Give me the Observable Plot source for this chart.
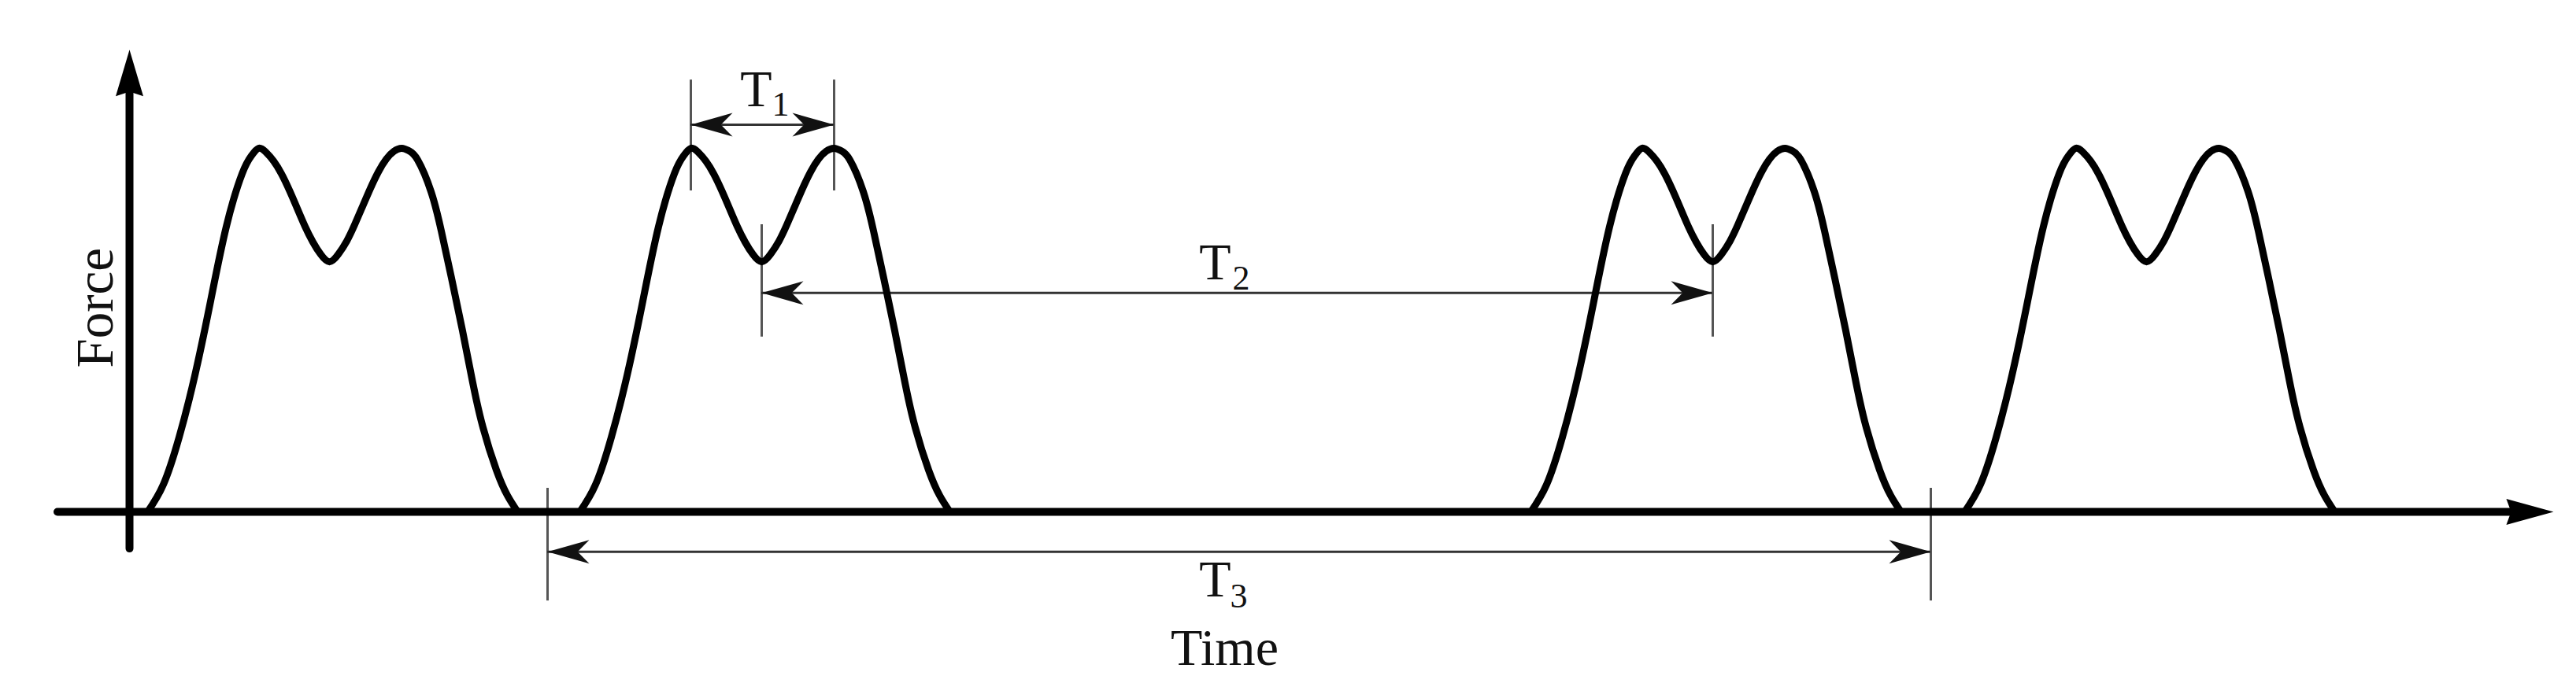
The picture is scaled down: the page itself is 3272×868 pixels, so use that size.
<!DOCTYPE html>
<html>
<head>
<meta charset="utf-8">
<script src="https://cdn.jsdelivr.net/npm/d3@7"></script>
<script src="https://cdn.jsdelivr.net/npm/@observablehq/plot@0.6"></script>
<style>
  html, body { margin: 0; padding: 0; background: #fff; }
  #chart svg { display: block; }
</style>
</head>
<body>
<div id="chart"></div>
<script>
// ---- Data (time in arbitrary units, force normalised to peak = 1) ----
// One double-peak pulse (time relative to pulse onset)
const shapeTime  = [0, 2.0, 4.0, 6.0, 8.0, 10.0, 12.0, 13.2, 14.1, 15.0, 16.0, 17.0, 18.0, 19.0, 20.0, 21.0, 22.0, 23.1,
                    24.2, 25.3, 26.3, 27.3, 28.3, 29.3, 30.3, 31.3, 32.3, 33.2, 34.3, 36.0, 37.3, 38.6, 40.0, 41.3, 42.6, 44.3, 45.7, 47.0];
const shapeForce = [0, 0.075, 0.205, 0.375, 0.58, 0.785, 0.93, 0.98, 1.0, 0.99, 0.965, 0.93, 0.885, 0.835, 0.785, 0.742, 0.708, 0.688,
                    0.708, 0.745, 0.79, 0.84, 0.89, 0.935, 0.97, 0.992, 1.0, 0.993, 0.968, 0.881, 0.773, 0.643, 0.498, 0.355, 0.232, 0.115, 0.045, 0];
// Onset times of the four pulses
const pulseOnsets = [2.3, 57.2, 178.0, 233.1];

// Axes extents
const timeAxis  = [-9.1, 303.0, 307.9];   // start, shaft end, arrow tip
const forceAxis = [-0.102, 1.15, 1.271];  // bottom, shaft end, arrow tip

// Dimension annotations T1, T2, T3
const dimNames       = ["T1", "T2", "T3"];
const dimStart       = [71.3, 80.3, 53.1];
const dimEnd         = [89.5, 201.1, 228.8];
const dimArrowForce  = [1.065, 0.602, -0.110];
const dimExtTop      = [1.188, 0.790, 0.065];
const dimExtBottom   = [0.883, 0.481, -0.245];

// Labels
const labelText  = ["T", "T", "T", "Time"];
const labelTime  = [79.6, 137.9, 137.9, 139.1];
const labelForce = [1.115, 0.639, -0.232, -0.422];
const subText    = ["1", "2", "3"];
const subTime    = [82.7, 141.2, 140.9];
const subForce   = [1.089, 0.612, -0.262];
const yLabelText  = ["Force"];
const yLabelTime  = [-4.3];
const yLabelForce = [0.561];

// ---- Tables built from the arrays ----
const curve = pulseOnsets.flatMap((onset, i) =>
  shapeTime.map((t, j) => ({time: onset + t, force: shapeForce[j], pulse: i})));
const dims = dimNames.map((n, i) => ({name: n, start: dimStart[i], end: dimEnd[i],
  y: dimArrowForce[i], top: dimExtTop[i], bottom: dimExtBottom[i]}));
const extLines = dims.flatMap(d => [{x: d.start, y1: d.bottom, y2: d.top}, {x: d.end, y1: d.bottom, y2: d.top}]);
const labels = labelText.map((t, i) => ({text: t, time: labelTime[i], force: labelForce[i]}));
const subs = subText.map((t, i) => ({text: t, time: subTime[i], force: subForce[i]}));
const yLabels = yLabelText.map((t, i) => ({text: t, time: yLabelTime[i], force: yLabelForce[i]}));

// ---- Arrowhead symbols (tip at the anchor point) ----
function head(dir, L, W, notch) {
  return {
    draw(ctx) {
      const pts = {
        right: [[0, 0], [-L, -W], [-notch * L, 0], [-L, W]],
        left:  [[0, 0], [L, -W], [notch * L, 0], [L, W]],
        up:    [[0, 0], [-W, L], [0, notch * L], [W, L]]
      }[dir];
      ctx.moveTo(pts[0][0], pts[0][1]);
      for (let k = 1; k < pts.length; ++k) ctx.lineTo(pts[k][0], pts[k][1]);
      ctx.closePath();
    }
  };
}
const dimLeft  = head("left", 53, 15, 0.72);
const dimRight = head("right", 53, 15, 0.72);
const axRight  = head("right", 60, 16.5, 0.9);
const axUp     = head("up", 59, 17.5, 0.9);

const serif = "'Liberation Serif', 'DejaVu Serif', serif";

const chart = Plot.plot({
  width: 3272,
  height: 868,
  margin: 0,
  x: {domain: [-16.4, 310.8], axis: null},
  y: {domain: [-0.4719, 1.4069], axis: null},
  style: {background: "white"},
  marks: [
    // extension lines of dimensions
    Plot.ruleX(extLines, {x: "x", y1: "y1", y2: "y2", stroke: "#555", strokeWidth: 3}),
    // dimension shafts
    Plot.ruleY(dims, {y: "y", x1: "start", x2: "end", stroke: "#333", strokeWidth: 3}),
    Plot.dot(dims, {x: "start", y: "y", symbol: dimLeft, fill: "#111", stroke: "none"}),
    Plot.dot(dims, {x: "end", y: "y", symbol: dimRight, fill: "#111", stroke: "none"}),
    // force pulses
    Plot.line(curve, {x: "time", y: "force", z: "pulse", curve: "natural",
      stroke: "#000", strokeWidth: 9, strokeLinejoin: "round", strokeLinecap: "round"}),
    // axes
    Plot.ruleY([0], {x1: timeAxis[0], x2: timeAxis[1], stroke: "#000", strokeWidth: 10, strokeLinecap: "round"}),
    Plot.ruleX([0], {y1: forceAxis[0], y2: forceAxis[1], stroke: "#000", strokeWidth: 10, strokeLinecap: "round"}),
    Plot.dot([{t: timeAxis[2], f: 0}], {x: "t", y: "f", symbol: axRight, fill: "#000", stroke: "none"}),
    Plot.dot([{t: 0, f: forceAxis[2]}], {x: "t", y: "f", symbol: axUp, fill: "#000", stroke: "none"}),
    // labels
    Plot.text(labels, {x: "time", y: "force", text: "text", fontSize: 66, fontFamily: serif,
      textAnchor: "middle", lineAnchor: "bottom", fill: "#111"}),
    Plot.text(subs, {x: "time", y: "force", text: "text", fontSize: 44, fontFamily: serif,
      textAnchor: "middle", lineAnchor: "bottom", fill: "#111"}),
    Plot.text(yLabels, {x: "time", y: "force", text: "text", rotate: -90, fontSize: 67, fontFamily: serif,
      textAnchor: "middle", lineAnchor: "middle", fill: "#111"})
  ]
});
document.getElementById("chart").append(chart);
</script>
</body>
</html>
